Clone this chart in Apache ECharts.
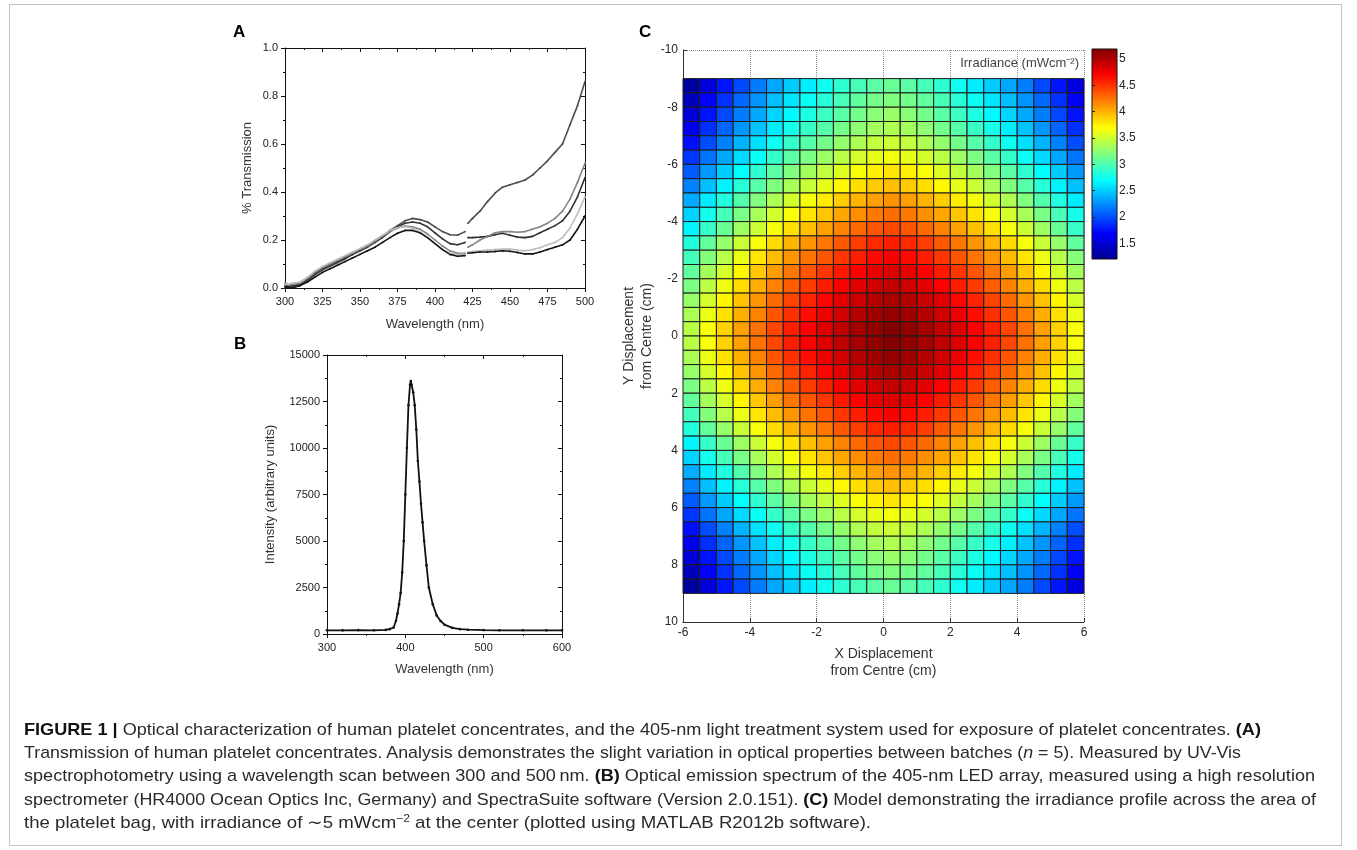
<!DOCTYPE html>
<html><head><meta charset="utf-8">
<script src="https://cdn.jsdelivr.net/npm/echarts@6/dist/echarts.min.js"></script>
<style>
html,body{margin:0;padding:0;background:#fff;}
#wrap{position:relative;width:1357px;height:850px;overflow:hidden;background:#fff;}
#chart{position:absolute;left:0;top:0;width:1357px;height:850px;}
#frame{position:absolute;left:9px;top:4px;width:1333px;height:842px;border:1px solid #c4c4c4;box-sizing:border-box;pointer-events:none}
.cap{position:absolute;left:24px;white-space:nowrap;font-family:'Liberation Sans',Arial,sans-serif;font-size:17px;line-height:18px;color:#2a2a2a;transform-origin:0 50%;}
.cap b{color:#111}
.cap sup{font-size:11px;line-height:0;vertical-align:6px}
</style></head>
<body>
<div id="wrap">
<div id="chart"></div>
<div id="frame"></div>
<div class="cap" style="top:721px"><b>FIGURE 1 |</b> Optical characterization of human platelet concentrates, and the 405-nm light treatment system used for exposure of platelet concentrates. <b>(A)</b></div>
<div class="cap" style="top:744px">Transmission of human platelet concentrates. Analysis demonstrates the slight variation in optical properties between batches (<i>n</i> = 5). Measured by UV-Vis</div>
<div class="cap" style="top:767px">spectrophotometry using a wavelength scan between 300 and 500&#8201;nm. <b>(B)</b> Optical emission spectrum of the 405-nm LED array, measured using a high resolution</div>
<div class="cap" style="top:791px">spectrometer (HR4000 Ocean Optics Inc, Germany) and SpectraSuite software (Version 2.0.151). <b>(C)</b> Model demonstrating the irradiance profile across the area of</div>
<div class="cap" style="top:814px">the platelet bag, with irradiance of &#8764;5 mWcm<sup>&#8722;2</sup> at the center (plotted using MATLAB R2012b software).</div>
</div>
<script>
// ---------- Panel A: transmission (5 batches), scan split at 420 nm ----------
const wlA1 = [300,305,310,315,320,325,330,335,340,345,350,355,360,365,370,375,380,385,390,395,400,405,410,415,420];
const wlA2 = [422,425,430,435,440,445,450,455,460,465,470,475,480,485,490,495,500];
const T1a = [0.01,0.005,0.01,0.03,0.055,0.075,0.09,0.105,0.12,0.14,0.155,0.175,0.195,0.215,0.24,0.26,0.28,0.29,0.285,0.275,0.255,0.235,0.222,0.22,0.235];
const T1b = [0.27,0.29,0.32,0.36,0.395,0.42,0.43,0.44,0.45,0.47,0.50,0.53,0.565,0.60,0.68,0.76,0.86];
const T2a = [0.0,0.01,0.015,0.035,0.06,0.08,0.095,0.11,0.125,0.14,0.155,0.17,0.19,0.21,0.235,0.255,0.27,0.275,0.27,0.255,0.23,0.205,0.185,0.18,0.19];
const T2b = [0.21,0.21,0.212,0.215,0.222,0.228,0.22,0.212,0.21,0.215,0.23,0.245,0.26,0.28,0.32,0.38,0.46];
const T3a = [0.02,0.015,0.02,0.04,0.065,0.085,0.1,0.115,0.13,0.145,0.16,0.175,0.195,0.215,0.235,0.25,0.258,0.255,0.245,0.225,0.2,0.175,0.155,0.145,0.145];
const T3b = [0.17,0.18,0.2,0.215,0.23,0.235,0.235,0.232,0.235,0.245,0.255,0.27,0.29,0.32,0.37,0.44,0.52];
const T4a = [0.015,0.02,0.025,0.045,0.07,0.09,0.105,0.12,0.135,0.15,0.165,0.18,0.2,0.22,0.24,0.252,0.255,0.25,0.235,0.21,0.185,0.16,0.145,0.14,0.14];
const T4b = [0.15,0.152,0.155,0.158,0.16,0.162,0.162,0.158,0.155,0.16,0.168,0.18,0.19,0.21,0.25,0.31,0.38];
const T5a = [0.005,0.0,0.01,0.025,0.045,0.065,0.08,0.095,0.11,0.125,0.14,0.155,0.17,0.19,0.21,0.228,0.24,0.24,0.23,0.21,0.185,0.16,0.14,0.132,0.135];
const T5b = [0.145,0.147,0.15,0.15,0.152,0.155,0.153,0.148,0.142,0.142,0.15,0.16,0.17,0.18,0.2,0.245,0.3];
const colorsA = ['#4d4d4d','#333333','#858585','#bdbdbd','#141414'];

// ---------- Panel B: LED emission spectrum ----------
const wlB = [300,320,340,360,375,380,385,388,390,392,394,396,398,400,402,404,406,407,408,410,412,414,416,418,420,422,424,427,430,435,440,445,450,460,470,480,500,520,550,580,600];
const intB = [200,195,210,200,220,260,350,700,1100,1600,2200,3300,5000,7500,10000,12300,13400,13600,13400,13000,12300,11000,9300,8200,7000,6000,5000,3700,2500,1600,1000,700,500,330,260,230,210,200,200,195,200];

// ---------- Panel C: irradiance model (mWcm-2), cell centres in cm ----------
const xC = [-5.75,-5.25,-4.75,-4.25,-3.75,-3.25,-2.75,-2.25,-1.75,-1.25,-0.75,-0.25,0.25,0.75,1.25,1.75,2.25,2.75,3.25,3.75,4.25,4.75,5.25,5.75];
const yC = [-8.75,-8.25,-7.75,-7.25,-6.75,-6.25,-5.75,-5.25,-4.75,-4.25,-3.75,-3.25,-2.75,-2.25,-1.75,-1.25,-0.75,-0.25,0.25,0.75,1.25,1.75,2.25,2.75,3.25,3.75,4.25,4.75,5.25,5.75,6.25,6.75,7.25,7.75,8.25,8.75];
const irr = [
[1.27,1.55,1.78,1.98,2.18,2.35,2.50,2.63,2.75,2.87,2.97,3.05,3.10,3.05,2.97,2.87,2.75,2.63,2.50,2.35,2.18,1.98,1.78,1.55],
[1.40,1.68,1.89,2.10,2.28,2.45,2.60,2.73,2.85,2.97,3.07,3.15,3.20,3.15,3.07,2.97,2.85,2.73,2.60,2.45,2.28,2.10,1.89,1.68],
[1.51,1.77,1.98,2.18,2.36,2.53,2.68,2.81,2.93,3.05,3.15,3.23,3.28,3.23,3.15,3.05,2.93,2.81,2.68,2.53,2.36,2.18,1.98,1.77],
[1.62,1.88,2.08,2.28,2.46,2.63,2.78,2.91,3.03,3.15,3.25,3.33,3.38,3.33,3.25,3.15,3.03,2.91,2.78,2.63,2.46,2.28,2.08,1.88],
[1.75,2.00,2.20,2.40,2.58,2.75,2.90,3.03,3.15,3.27,3.37,3.45,3.50,3.45,3.37,3.27,3.15,3.03,2.90,2.75,2.58,2.40,2.20,2.00],
[1.90,2.15,2.35,2.55,2.73,2.90,3.05,3.18,3.30,3.42,3.52,3.60,3.65,3.60,3.52,3.42,3.30,3.18,3.05,2.90,2.73,2.55,2.35,2.15],
[2.05,2.30,2.50,2.70,2.88,3.05,3.20,3.33,3.45,3.57,3.67,3.75,3.80,3.75,3.67,3.57,3.45,3.33,3.20,3.05,2.88,2.70,2.50,2.30],
[2.20,2.45,2.65,2.85,3.03,3.20,3.35,3.48,3.60,3.72,3.82,3.90,3.95,3.90,3.82,3.72,3.60,3.48,3.35,3.20,3.03,2.85,2.65,2.45],
[2.37,2.62,2.82,3.02,3.20,3.37,3.52,3.65,3.77,3.89,3.99,4.07,4.12,4.07,3.99,3.89,3.77,3.65,3.52,3.37,3.20,3.02,2.82,2.62],
[2.52,2.77,2.97,3.17,3.35,3.52,3.67,3.80,3.92,4.04,4.14,4.22,4.27,4.22,4.14,4.04,3.92,3.80,3.67,3.52,3.35,3.17,2.97,2.77],
[2.66,2.91,3.11,3.31,3.49,3.66,3.81,3.94,4.06,4.18,4.28,4.36,4.41,4.36,4.28,4.18,4.06,3.94,3.81,3.66,3.49,3.31,3.11,2.91],
[2.83,3.08,3.28,3.48,3.66,3.83,3.98,4.11,4.23,4.35,4.45,4.53,4.58,4.53,4.45,4.35,4.23,4.11,3.98,3.83,3.66,3.48,3.28,3.08],
[2.96,3.21,3.41,3.61,3.79,3.96,4.11,4.24,4.36,4.48,4.58,4.66,4.71,4.66,4.58,4.48,4.36,4.24,4.11,3.96,3.79,3.61,3.41,3.21],
[3.08,3.33,3.53,3.73,3.91,4.08,4.23,4.36,4.48,4.60,4.70,4.78,4.83,4.78,4.70,4.60,4.48,4.36,4.23,4.08,3.91,3.73,3.53,3.33],
[3.18,3.43,3.63,3.83,4.01,4.18,4.33,4.46,4.58,4.70,4.80,4.88,4.93,4.88,4.80,4.70,4.58,4.46,4.33,4.18,4.01,3.83,3.63,3.43],
[3.28,3.53,3.73,3.93,4.11,4.28,4.43,4.56,4.68,4.80,4.90,4.98,5.03,4.98,4.90,4.80,4.68,4.56,4.43,4.28,4.11,3.93,3.73,3.53],
[3.36,3.61,3.81,4.01,4.19,4.36,4.51,4.64,4.76,4.88,4.98,5.06,5.11,5.06,4.98,4.88,4.76,4.64,4.51,4.36,4.19,4.01,3.81,3.61],
[3.42,3.67,3.87,4.07,4.25,4.42,4.57,4.70,4.82,4.94,5.04,5.12,5.17,5.12,5.04,4.94,4.82,4.70,4.57,4.42,4.25,4.07,3.87,3.67],
[3.42,3.67,3.87,4.07,4.25,4.42,4.57,4.70,4.82,4.94,5.04,5.12,5.17,5.12,5.04,4.94,4.82,4.70,4.57,4.42,4.25,4.07,3.87,3.67],
[3.36,3.61,3.81,4.01,4.19,4.36,4.51,4.64,4.76,4.88,4.98,5.06,5.11,5.06,4.98,4.88,4.76,4.64,4.51,4.36,4.19,4.01,3.81,3.61],
[3.28,3.53,3.73,3.93,4.11,4.28,4.43,4.56,4.68,4.80,4.90,4.98,5.03,4.98,4.90,4.80,4.68,4.56,4.43,4.28,4.11,3.93,3.73,3.53],
[3.18,3.43,3.63,3.83,4.01,4.18,4.33,4.46,4.58,4.70,4.80,4.88,4.93,4.88,4.80,4.70,4.58,4.46,4.33,4.18,4.01,3.83,3.63,3.43],
[3.08,3.33,3.53,3.73,3.91,4.08,4.23,4.36,4.48,4.60,4.70,4.78,4.83,4.78,4.70,4.60,4.48,4.36,4.23,4.08,3.91,3.73,3.53,3.33],
[2.96,3.21,3.41,3.61,3.79,3.96,4.11,4.24,4.36,4.48,4.58,4.66,4.71,4.66,4.58,4.48,4.36,4.24,4.11,3.96,3.79,3.61,3.41,3.21],
[2.83,3.08,3.28,3.48,3.66,3.83,3.98,4.11,4.23,4.35,4.45,4.53,4.58,4.53,4.45,4.35,4.23,4.11,3.98,3.83,3.66,3.48,3.28,3.08],
[2.66,2.91,3.11,3.31,3.49,3.66,3.81,3.94,4.06,4.18,4.28,4.36,4.41,4.36,4.28,4.18,4.06,3.94,3.81,3.66,3.49,3.31,3.11,2.91],
[2.52,2.77,2.97,3.17,3.35,3.52,3.67,3.80,3.92,4.04,4.14,4.22,4.27,4.22,4.14,4.04,3.92,3.80,3.67,3.52,3.35,3.17,2.97,2.77],
[2.37,2.62,2.82,3.02,3.20,3.37,3.52,3.65,3.77,3.89,3.99,4.07,4.12,4.07,3.99,3.89,3.77,3.65,3.52,3.37,3.20,3.02,2.82,2.62],
[2.20,2.45,2.65,2.85,3.03,3.20,3.35,3.48,3.60,3.72,3.82,3.90,3.95,3.90,3.82,3.72,3.60,3.48,3.35,3.20,3.03,2.85,2.65,2.45],
[2.05,2.30,2.50,2.70,2.88,3.05,3.20,3.33,3.45,3.57,3.67,3.75,3.80,3.75,3.67,3.57,3.45,3.33,3.20,3.05,2.88,2.70,2.50,2.30],
[1.90,2.15,2.35,2.55,2.73,2.90,3.05,3.18,3.30,3.42,3.52,3.60,3.65,3.60,3.52,3.42,3.30,3.18,3.05,2.90,2.73,2.55,2.35,2.15],
[1.75,2.00,2.20,2.40,2.58,2.75,2.90,3.03,3.15,3.27,3.37,3.45,3.50,3.45,3.37,3.27,3.15,3.03,2.90,2.75,2.58,2.40,2.20,2.00],
[1.62,1.88,2.08,2.28,2.46,2.63,2.78,2.91,3.03,3.15,3.25,3.33,3.38,3.33,3.25,3.15,3.03,2.91,2.78,2.63,2.46,2.28,2.08,1.88],
[1.51,1.77,1.98,2.18,2.36,2.53,2.68,2.81,2.93,3.05,3.15,3.23,3.28,3.23,3.15,3.05,2.93,2.81,2.68,2.53,2.36,2.18,1.98,1.77],
[1.40,1.68,1.89,2.10,2.28,2.45,2.60,2.73,2.85,2.97,3.07,3.15,3.20,3.15,3.07,2.97,2.85,2.73,2.60,2.45,2.28,2.10,1.89,1.68],
[1.27,1.55,1.78,1.98,2.18,2.35,2.50,2.63,2.75,2.87,2.97,3.05,3.10,3.05,2.97,2.87,2.75,2.63,2.50,2.35,2.18,1.98,1.78,1.55]
];
const cbMin = 1.2, cbMax = 5.19;
const cbTicks = [1.5,2,2.5,3,3.5,4,4.5,5];
const jet = ['#00008f','#0000ff','#0080ff','#00ffff','#80ff80','#ffff00','#ff8000','#ff0000','#800000'];

// ---------- build ----------
const FONT = "'Liberation Sans', Arial, sans-serif";
const pairs = (xs, ys) => xs.map((x, i) => [x, ys[i]]);
const cData = [];
irr.forEach((row, r) => row.forEach((v, c) => cData.push([xC[c], yC[r], v])));
const halfX = (xC[1] - xC[0]) / 2, halfY = (yC[1] - yC[0]) / 2;

const lbl = (sz, extra) => Object.assign({fontFamily: FONT, fontSize: sz, color: '#222'}, extra || {});
function originX(gi, min, max, interval, name, gap, bottom) {
  return {
    gridIndex: gi, type: 'value', min, max, interval, position: bottom ? 'bottom' : 'top',
    axisLine: {show: true, onZero: false, lineStyle: {color: '#111', width: 1}},
    axisTick: {show: true, inside: !bottom, length: 4, lineStyle: {color: '#111'}},
    minorTick: {show: true, splitNumber: 2, length: 2, lineStyle: {color: '#111'}},
    axisLabel: bottom ? lbl(11, {margin: 8, formatter: v => String(v)}) : {show: false},
    splitLine: {show: false},
    name: bottom ? name : '', nameLocation: 'middle', nameGap: gap,
    nameTextStyle: lbl(13, {color: '#333'})
  };
}
function originY(gi, min, max, interval, name, gap, left, fmt) {
  return {
    gridIndex: gi, type: 'value', min, max, interval, position: left ? 'left' : 'right',
    axisLine: {show: true, onZero: false, lineStyle: {color: '#111', width: 1}},
    axisTick: {show: true, inside: !left, length: 4, lineStyle: {color: '#111'}},
    minorTick: {show: true, splitNumber: 2, length: 2, lineStyle: {color: '#111'}},
    axisLabel: left ? lbl(11, {margin: 7, formatter: fmt || (v => String(v))}) : {show: false},
    splitLine: {show: false},
    name: left ? name : '', nameLocation: 'middle', nameGap: gap,
    nameTextStyle: lbl(13, {color: '#333'})
  };
}

const series = [];
const A = [[T1a, T1b], [T2a, T2b], [T3a, T3b], [T4a, T4b], [T5a, T5b]];
A.forEach((seg, k) => {
  [[wlA1, seg[0]], [wlA2, seg[1]]].forEach(([xs, ys]) => {
    series.push({type: 'line', xAxisIndex: 0, yAxisIndex: 0, data: pairs(xs, ys),
      showSymbol: true, symbol: 'circle', symbolSize: 1.8, silent: true,
      itemStyle: {color: colorsA[k]}, lineStyle: {color: colorsA[k], width: 1.6}});
  });
});
series.push({type: 'line', xAxisIndex: 2, yAxisIndex: 2, data: pairs(wlB, intB),
  showSymbol: true, symbol: 'circle', symbolSize: 2.6, silent: true,
  itemStyle: {color: '#111'}, lineStyle: {color: '#111', width: 1.8}});
const cIndex = series.length;
series.push({type: 'custom', xAxisIndex: 4, yAxisIndex: 4, data: cData, encode: {x: 0, y: 1},
  silent: true,
  renderItem: function (params, api) {
    const x = api.value(0), y = api.value(1);
    const a = api.coord([x - halfX, y - halfY]);
    const b = api.coord([x + halfX, y + halfY]);
    return {type: 'rect',
      shape: {x: Math.min(a[0], b[0]), y: Math.min(a[1], b[1]), width: Math.abs(b[0] - a[0]), height: Math.abs(b[1] - a[1])},
      style: {fill: api.visual('color'), stroke: '#1c1c1c', lineWidth: 1}};
  }});

const CB = {left: 1092, top: 49, width: 25, height: 210};
const option = {
  animation: false,
  backgroundColor: '#fff',
  grid: [
    {left: 285, top: 48, width: 300, height: 240},
    {left: 327, top: 355, width: 235, height: 279},
    {left: 683, top: 50, width: 401, height: 572},
    CB
  ],
  xAxis: [
    originX(0, 300, 500, 25, 'Wavelength (nm)', 30, true),
    originX(0, 300, 500, 25, '', 0, false),
    originX(1, 300, 600, 100, 'Wavelength (nm)', 29, true),
    originX(1, 300, 600, 100, '', 0, false),
    {gridIndex: 2, type: 'value', min: -6, max: 6, interval: 2,
      axisLine: {show: true, onZero: false, lineStyle: {color: '#333'}},
      axisTick: {show: true, inside: true, length: 4, lineStyle: {color: '#333'}},
      axisLabel: lbl(12, {margin: 5, color: '#262626'}),
      splitLine: {show: true, lineStyle: {color: '#8a8a8a', type: 'dotted', width: 1}},
      name: 'X Displacement\nfrom Centre (cm)', nameLocation: 'middle', nameGap: 24,
      nameTextStyle: lbl(14, {color: '#333', lineHeight: 17})},
    {gridIndex: 3, type: 'value', min: 0, max: 1, show: false}
  ],
  yAxis: [
    originY(0, 0, 1, 0.2, '% Transmission', 31, true, v => v.toFixed(1)),
    originY(0, 0, 1, 0.2, '', 0, false),
    originY(1, 0, 15000, 2500, 'Intensity (arbitrary units)', 50, true),
    originY(1, 0, 15000, 2500, '', 0, false),
    {gridIndex: 2, type: 'value', min: -10, max: 10, interval: 2, inverse: true,
      axisLine: {show: true, onZero: false, lineStyle: {color: '#333'}},
      axisTick: {show: true, inside: true, length: 4, lineStyle: {color: '#333'}},
      axisLabel: lbl(12, {margin: 5, color: '#262626'}),
      splitLine: {show: true, lineStyle: {color: '#8a8a8a', type: 'dotted', width: 1}},
      name: 'Y Displacement\nfrom Centre (cm)', nameLocation: 'middle', nameGap: 27,
      nameTextStyle: lbl(14, {color: '#333', lineHeight: 18})},
    {gridIndex: 3, type: 'value', min: cbMin, max: cbMax, position: 'right',
      axisLine: {show: false},
      axisTick: {show: true, inside: false, length: 3, customValues: cbTicks, lineStyle: {color: '#222'}},
      axisLabel: lbl(12, {margin: 2, color: '#262626', customValues: cbTicks}),
      splitLine: {show: false}}
  ],
  visualMap: [{type: 'continuous', show: false, min: cbMin, max: cbMax, dimension: 2,
    seriesIndex: cIndex, inRange: {color: jet}}],
  graphic: [
    {type: 'text', left: 233, top: 24, style: {text: 'A', font: "bold 17px " + FONT, fill: '#000'}},
    {type: 'text', left: 234, top: 336, style: {text: 'B', font: "bold 17px " + FONT, fill: '#000'}},
    {type: 'text', left: 639, top: 24, style: {text: 'C', font: "bold 17px " + FONT, fill: '#000'}},
    {type: 'text', right: 1357 - 1079, top: 57, style: {text: 'Irradiance (mWcm\u207B\u00B2)', font: "13px " + FONT, fill: '#444'}},
    {type: 'rect', z: -1, shape: {x: CB.left, y: CB.top, width: CB.width, height: CB.height},
      style: {stroke: '#111', lineWidth: 1,
        fill: {type: 'linear', x: 0, y: 0, x2: 0, y2: 1,
          colorStops: jet.slice().reverse().map((c, i, arr) => ({offset: i / (arr.length - 1), color: c}))}}}
  ],
  series
};
const chart = echarts.init(document.getElementById('chart'), null, {renderer: 'canvas'});
chart.setOption(option);

// fit caption lines to the reference line lengths (right end x of each line)
const capEnds = [1261, 1241, 1315, 1316, 871];
document.querySelectorAll('.cap').forEach((el, i) => {
  el.style.transform = 'none';
  const r = el.getBoundingClientRect();
  el.style.transform = 'scaleX(' + ((capEnds[i] - r.left) / r.width).toFixed(4) + ')';
});
</script>
</body></html>
